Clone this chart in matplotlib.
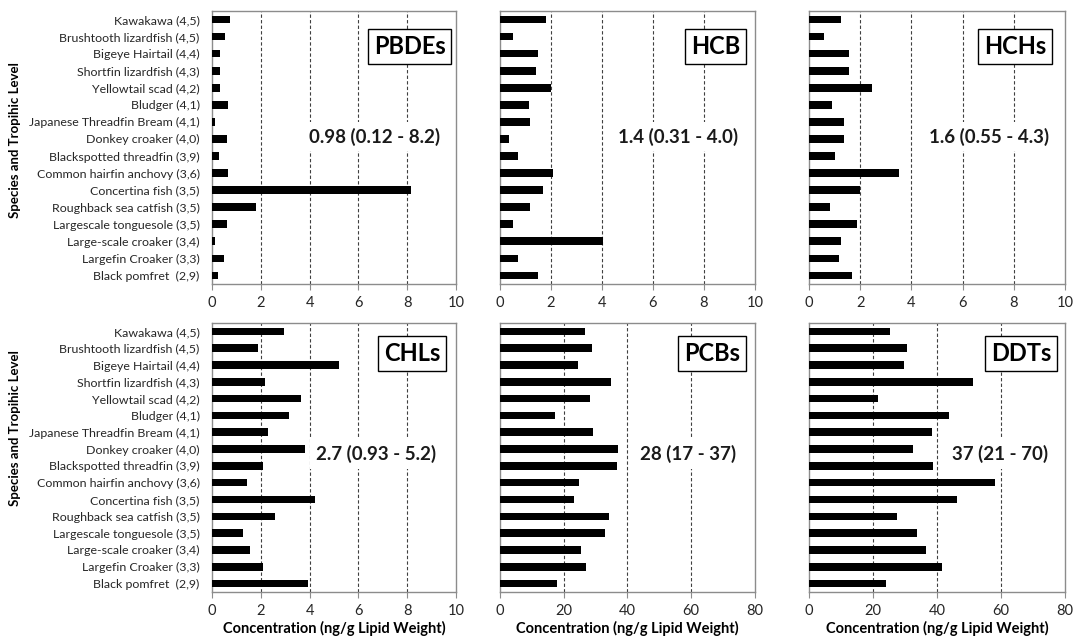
import matplotlib.pyplot as plt

plt.rcParams['font.family'] = ['Lato', 'DejaVu Sans']

# species with trophic level, top to bottom as drawn
species = [
    "Kawakawa (4,5)", "Brushtooth lizardfish (4,5)", "Bigeye Hairtail (4,4)",
    "Shortfin lizardfish (4,3)", "Yellowtail scad (4,2)", "Bludger (4,1)",
    "Japanese Threadfin Bream (4,1)", "Donkey croaker (4,0)",
    "Blackspotted threadfin (3,9)", "Common hairfin anchovy (3,6)",
    "Concertina fish (3,5)", "Roughback sea catfish (3,5)",
    "Largescale tonguesole (3,5)", "Large-scale croaker (3,4)",
    "Largefin Croaker (3,3)", "Black pomfret  (2,9)",
]

# concentrations (ng/g lipid weight), same order as species
pbdes = [0.72, 0.54, 0.33, 0.33, 0.33, 0.66, 0.12, 0.63, 0.28, 0.66, 8.17, 1.80, 0.60, 0.12, 0.51, 0.25]
hcb = [1.80, 0.52, 1.48, 1.40, 2.00, 1.14, 1.18, 0.34, 0.69, 2.09, 1.70, 1.18, 0.50, 4.03, 0.69, 1.48]
hchs = [1.26, 0.57, 1.55, 1.55, 2.44, 0.91, 1.36, 1.38, 1.02, 3.52, 2.00, 0.82, 1.88, 1.26, 1.16, 1.66]
chls = [2.95, 1.89, 5.21, 2.17, 3.66, 3.17, 2.30, 3.81, 2.10, 1.45, 4.23, 2.59, 1.27, 1.54, 2.10, 3.92]
pcbs = [26.7, 28.8, 24.6, 34.7, 28.2, 17.4, 29.3, 37.1, 36.8, 24.9, 23.3, 34.2, 33.0, 25.3, 26.9, 18.0]
ddts = [25.4, 30.7, 29.8, 51.3, 21.4, 43.8, 38.5, 32.5, 38.6, 58.1, 46.1, 27.4, 33.8, 36.5, 41.4, 24.1]

names = ["PBDEs", "HCB", "HCHs", "CHLs", "PCBs", "DDTs"]
summaries = ["0.98 (0.12 - 8.2)", "1.4 (0.31 - 4.0)", "1.6 (0.55 - 4.3)",
             "2.7 (0.93 - 5.2)", "28 (17 - 37)", "37 (21 - 70)"]
xmax = [10, 10, 10, 10, 80, 80]
series = [pbdes, hcb, hchs, chls, pcbs, ddts]

# axes rectangles in figure fractions
lefts = [0.1974, 0.4655, 0.7533]
widths = [0.2272, 0.2374, 0.2384]
bottoms = [0.5535, 0.0692]
heights = [0.4292, 0.423]

# label box and summary text positions (axes fractions)
box_pos = [(0.81, 0.87), (0.847, 0.87), (0.805, 0.87), (0.82, 0.885), (0.831, 0.885), (0.828, 0.885)]
txt_pos = [(0.668, 0.54), (0.698, 0.54), (0.703, 0.54), (0.672, 0.513), (0.737, 0.513), (0.746, 0.513)]

fig = plt.figure(figsize=(10.74, 6.36), dpi=100)
spine_col = "#8c8c8c"

for i in range(6):
    r, c = divmod(i, 3)
    ax = fig.add_axes([lefts[c], bottoms[r], widths[c], heights[r]])
    y = list(range(len(species)))
    ax.barh(y, series[i], height=0.45, color="black", zorder=3)
    ax.set_ylim(len(species) - 0.5, -0.5)
    ax.set_xlim(0, xmax[i])
    step = 2 if xmax[i] == 10 else 20
    ax.set_xticks(range(0, xmax[i] + 1, step))
    for g in range(step, xmax[i], step):
        ax.axvline(g, color="#404040", linestyle=(0, (3, 2)), linewidth=0.8, zorder=1)
    for s in ax.spines.values():
        s.set_color(spine_col)
        s.set_linewidth(1)
    ax.tick_params(axis="x", colors=spine_col, labelcolor="#262626", labelsize=10.5,
                   length=4, direction="out", pad=5)
    if c == 0:
        ax.set_yticks(y)
        ax.set_yticklabels(species, fontsize=8.9, color="#262626")
        ax.tick_params(axis="y", length=0, pad=9)
    else:
        ax.set_yticks([])
    ax.text(box_pos[i][0], box_pos[i][1], names[i], transform=ax.transAxes,
            ha="center", va="center", fontsize=17, fontweight="bold", zorder=5,
            bbox=dict(boxstyle="square,pad=0.25", facecolor="white", edgecolor="black", linewidth=1))
    ax.text(txt_pos[i][0], txt_pos[i][1], summaries[i], transform=ax.transAxes,
            ha="center", va="center", fontsize=13.5, fontweight="bold", color="#1a1a1a", zorder=5,
            bbox=dict(boxstyle="square,pad=0.3", facecolor="white", edgecolor="none"))
    if r == 1:
        ax.set_xlabel("Concentration (ng/g Lipid Weight)", fontsize=10.5, fontweight="bold",
                      labelpad=2)

fig.text(0.014, 1 - 140 / 636, "Species and Tropihic Level", rotation=90, ha="center",
         va="center", fontsize=9.5, fontweight="bold")
fig.text(0.014, 1 - 428 / 636, "Species and Tropihic Level", rotation=90, ha="center",
         va="center", fontsize=9.5, fontweight="bold")

fig.savefig("out.png", dpi=100)
